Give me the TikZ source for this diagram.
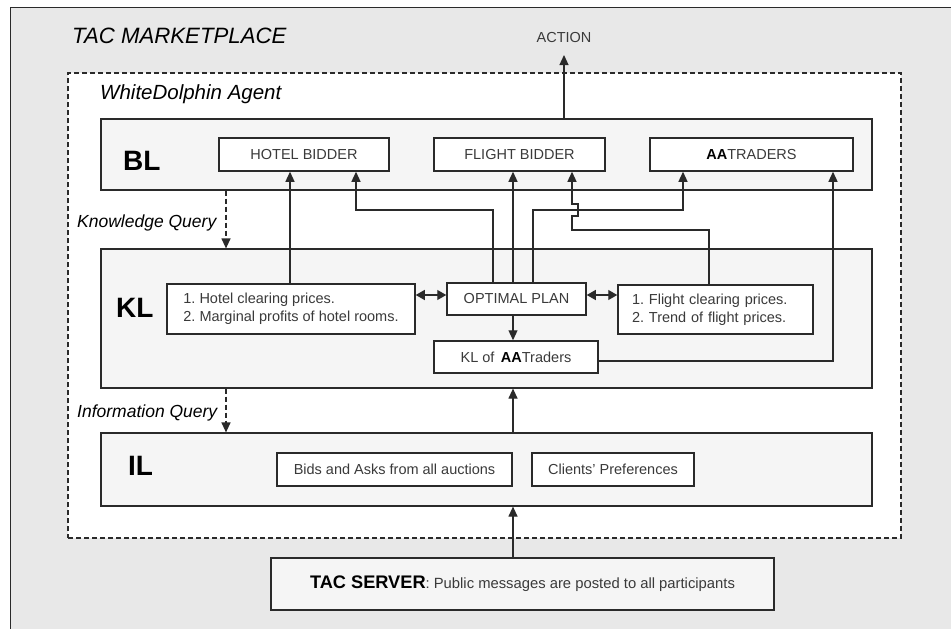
\documentclass[tikz,border=0pt]{standalone}
\usepackage{fontspec}
\setmainfont{Liberation Sans}
\usetikzlibrary{arrows.meta,calc}
\definecolor{framefill}{HTML}{E8E8E8}
\definecolor{layerfill}{HTML}{F5F5F5}
\definecolor{ln}{HTML}{2A2A2A}
\definecolor{txt}{HTML}{3A3A3A}
\newcommand\fsz[2]{\fontsize{#1}{#2}\selectfont}
\frenchspacing
\tikzset{
  layerbox/.style={draw=ln, line width=1.2pt, fill=layerfill, inner sep=0pt, minimum width=771pt},
  innerbox/.style={draw=ln, line width=1.5pt, fill=white, inner sep=0pt, text=txt, font=\fsz{14.5}{18}\frenchspacing},
  arr/.style={draw=ln, line width=1.2pt, -{Triangle[length=10pt,width=9pt]}},
  dblarr/.style={draw=ln, line width=1.2pt, {Triangle[length=9pt,width=10pt]}-{Triangle[length=9pt,width=10pt]}},
  dasharr/.style={arr, dash pattern=on 5pt off 3pt},
  layerlabel/.style={anchor=base west, inner sep=0pt, font=\fsz{28}{32}\bfseries, text=black},
  italabel/.style={anchor=base west, inner sep=0pt, font=\fsz{17.5}{20}\itshape, text=black}
}
\begin{document}
\begin{tikzpicture}[x=1pt,y=-1pt]
\useasboundingbox (0,0) rectangle (951,629);
\fill[white] (0,0) rectangle (951,629);
\draw[ln, line width=1pt, fill=framefill] (10,7) rectangle (975,660);

% agent dashed box
\node[draw=ln, dash pattern=on 5pt off 3pt, line width=1.2pt, fill=white, inner sep=0pt,
      minimum width=833pt, minimum height=465pt] (agent) at (484.5,305.5) {};

\node[anchor=base west, inner sep=0pt, font=\fsz{22.2}{26}\itshape, text=black] (market) at (72,43) {TAC MARKETPLACE};
\node[anchor=base west, inner sep=0pt, font=\fsz{20.5}{24}\itshape, text=black] (agentlbl) at (100,99.5) {WhiteDolphin Agent};
\node[anchor=base, inner sep=0pt, font=\fsz{14.5}{18}, text=txt] (action) at (564,42) {ACTION};
\coordinate (actiontip) at (564,55);

% layers
\node[layerbox, minimum height=71pt] (BL) at (486.5,154.5) {};
\node[layerbox, minimum height=139pt] (KL) at (486.5,318.5) {};
\node[layerbox, minimum height=73pt] (IL) at (486.5,469.5) {};

\node[layerlabel] (bltxt) at (123,170) {BL};
\node[layerlabel] (kltxt) at (116,317.5) {KL};
\node[layerlabel] (iltxt) at (128,475) {IL};

% BL boxes
\node[innerbox, minimum width=170pt, minimum height=33pt] (hb) at (304,154.5) {HOTEL BIDDER};
\node[innerbox, minimum width=171pt, minimum height=33pt] (fb) at (519.5,154.5) {FLIGHT BIDDER};
\node[innerbox, minimum width=203pt, minimum height=33pt] (aa) at (751.5,154.5) {\textbf{\color{black}AA}TRADERS};

% KL boxes
\node[innerbox, align=left, minimum width=248pt, minimum height=50pt] (hp) at (291,309)
  {1. Hotel clearing prices.\\2. Marginal profits of hotel rooms.};
\node[innerbox, minimum width=139pt, minimum height=32pt] (op) at (516.5,299) {OPTIMAL PLAN};
\node[innerbox, inner xsep=14pt, text width=167pt, align=left, minimum height=49pt] (fp) at (715.5,309.5)
  {1. Flight clearing prices.\\2. Trend of flight prices.};
\node[innerbox, minimum width=164pt, minimum height=32pt] (kla) at (516,357) {KL of \,\textbf{\color{black}AA}Traders};

% IL boxes
\node[innerbox, minimum width=235pt, minimum height=33pt] (bids) at (394.5,469.5) {Bids and Asks from all auctions};
\node[innerbox, minimum width=162pt, minimum height=33pt] (cli) at (613,469.5) {Clients' Preferences};

% TAC server
\node[draw=ln, line width=1.5pt, fill=layerfill, inner sep=0pt, minimum width=503pt, minimum height=52pt,
      text=txt, font=\fsz{14.8}{18}] (tac) at (522.5,584)
  {{\fsz{18.2}{20}\bfseries\color{black}TAC SERVER}: Public messages are posted to all participants};

% query labels
\node[italabel] (kq) at (77,227.5) {Knowledge Query};
\node[italabel] (iq) at (77,417.5) {Information Query};

% helper coordinates
\coordinate (qx) at (226,0);
\coordinate (mid) at (513,0);
\coordinate (busA) at (0,210);
\coordinate (busB) at (0,230);
\coordinate (dbl) at (0,295);

% connectors
\draw[arr] (BL.north -| actiontip) -- (actiontip);
\draw[dasharr] (BL.south -| qx) -- (KL.north -| qx);
\draw[dasharr] (KL.south -| qx) -- (IL.north -| qx);
\draw[arr] (IL.north -| mid) -- (KL.south -| mid);
\draw[arr] (tac.north -| mid) -- (IL.south -| mid);

\draw[arr] ([xshift=-1pt]hp.north) -- ([xshift=-1pt]hp.north |- hb.south);
\draw[arr] ([xshift=-23.5pt]op.north) |- ([xshift=52pt]hb.south |- busA) -- ([xshift=52pt]hb.south);
\draw[arr] ([xshift=-3.5pt]op.north) -- ([xshift=-3.5pt]op.north |- fb.south);
\draw[arr] ([xshift=16.5pt]op.north) |- ([xshift=-68.5pt]aa.south |- busA) -- ([xshift=-68.5pt]aa.south);
\draw[arr] ([xshift=-6.5pt]fp.north) |- ([xshift=52.5pt]fb.south |- busB)
  -- ++(0,-14) -- ++(6,0) -- ++(0,-12) -- ++(-6,0) -- ([xshift=52.5pt]fb.south);
\draw[arr] ([yshift=-4pt]kla.east) -| ([xshift=81.5pt]aa.south);

\draw[dblarr] (hp.east |- dbl) -- (op.west |- dbl);
\draw[dblarr] (op.east |- dbl) -- (fp.west |- dbl);
\draw[arr] ([xshift=-3.5pt]op.south) -- ([xshift=-3.5pt]op.south |- kla.north);
\end{tikzpicture}
\end{document}
